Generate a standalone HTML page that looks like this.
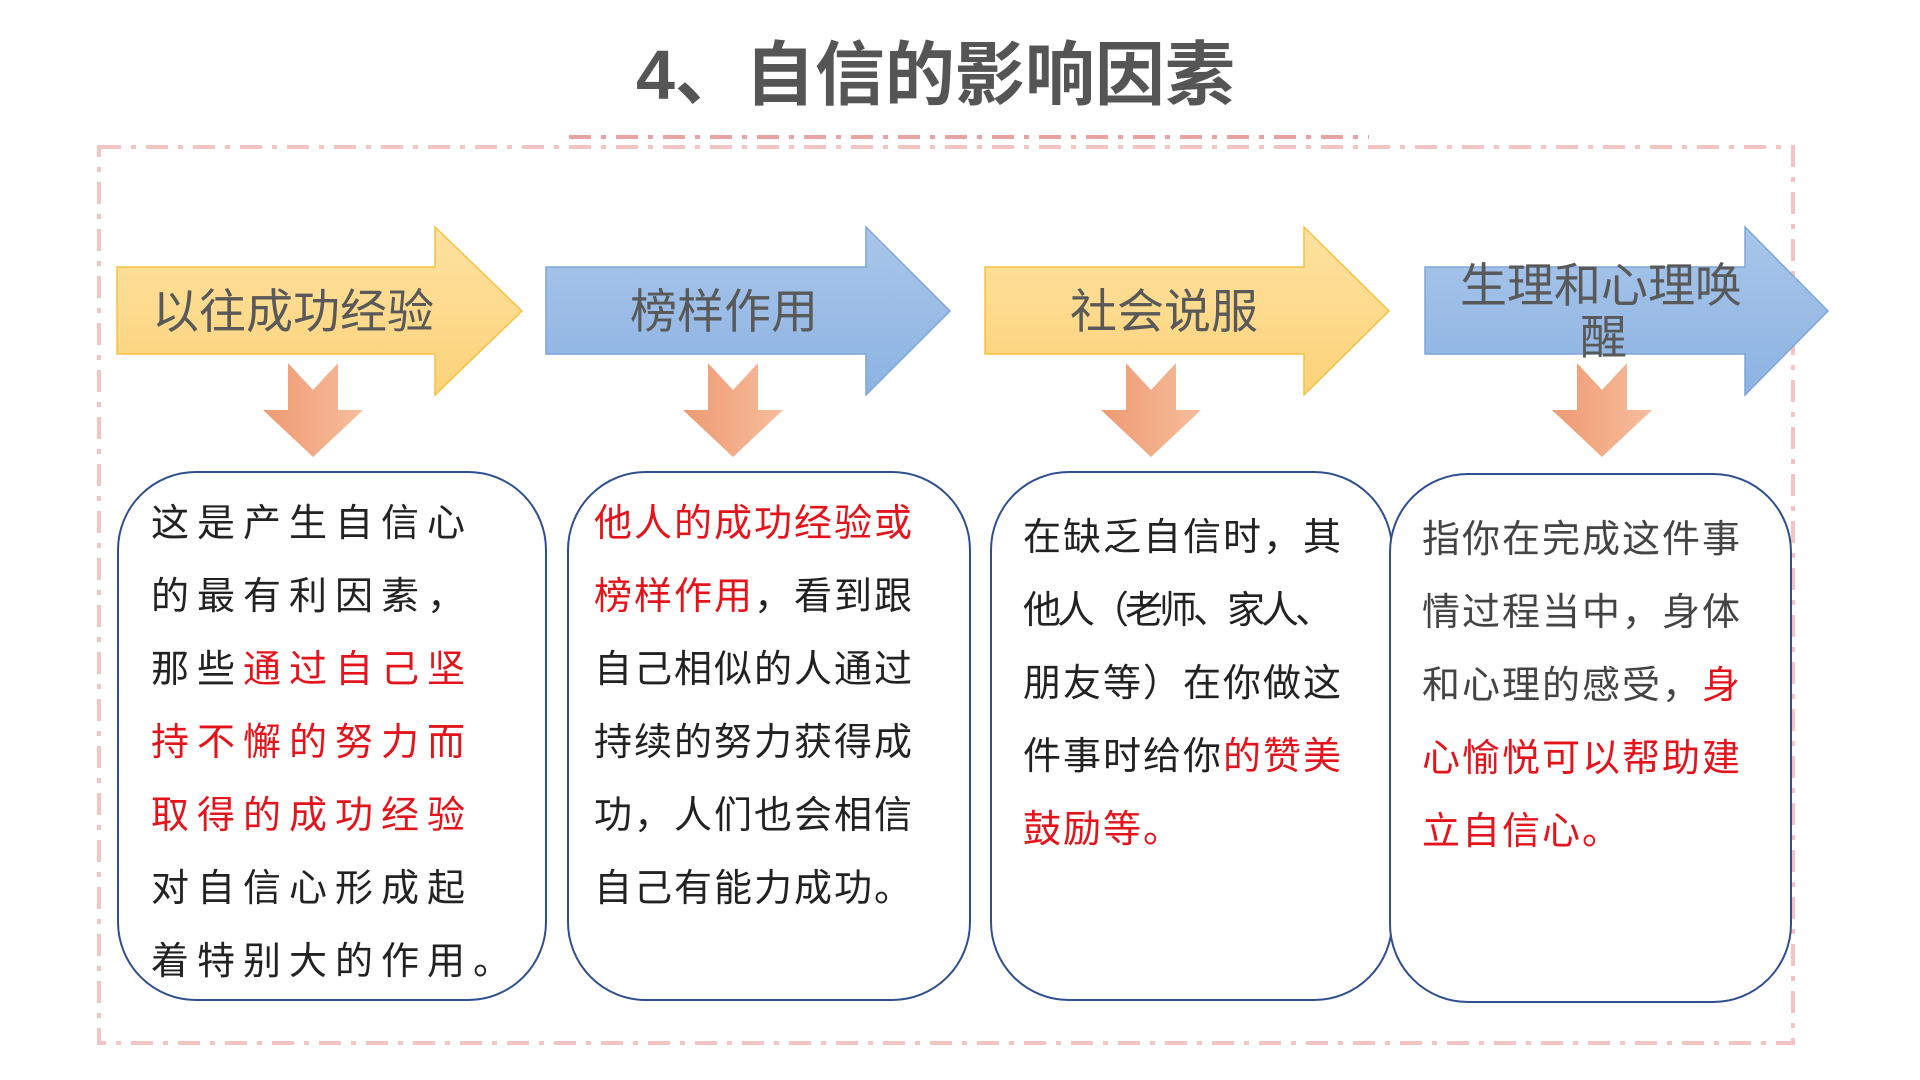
<!DOCTYPE html>
<html><head><meta charset="utf-8"><style>
html,body{margin:0;padding:0;background:#fff;}
#c{position:relative;width:1920px;height:1080px;overflow:hidden;font-family:"Liberation Sans","Noto Sans CJK SC",sans-serif;}
.t{position:absolute;white-space:nowrap;line-height:1;}
.lab{font-size:47px;color:#595959;}
.tx{font-size:38px;color:#222;letter-spacing:2px;}
.r{color:#e3141c;}
</style></head><body><div id="c">
<svg width="1920" height="1080" style="position:absolute;left:0;top:0">
<defs>
<linearGradient id="y" x1="0" y1="0" x2="0" y2="1"><stop offset="0" stop-color="#fde2a0"/><stop offset="1" stop-color="#fdd27a"/></linearGradient>
<linearGradient id="b" x1="0" y1="0" x2="0" y2="1"><stop offset="0" stop-color="#a9c6ea"/><stop offset="1" stop-color="#8cb3e2"/></linearGradient>
<linearGradient id="o" x1="0" y1="0" x2="1" y2="0"><stop offset="0" stop-color="#ee9a72"/><stop offset="1" stop-color="#f7bd9c"/></linearGradient>
</defs>
<line x1="569" y1="137" x2="1369" y2="137" stroke="#e8a3a3" stroke-width="4" stroke-dasharray="22,10,5,10"/>
<rect x="99" y="147" width="1694" height="896" fill="none" stroke="#f2c4c4" stroke-width="4" stroke-dasharray="22,10,5,10"/>
<polygon points="117,267 435,267 435,227 522,311 435,395 435,354 117,354" fill="url(#y)" stroke="#f5c242" stroke-width="1.5"/>
<polygon points="546,267 866,267 866,227 950,311 866,395 866,354 546,354" fill="url(#b)" stroke="#7fa6d8" stroke-width="1.5"/>
<polygon points="985,267 1304,267 1304,227 1389,311 1304,395 1304,354 985,354" fill="url(#y)" stroke="#f5c242" stroke-width="1.5"/>
<polygon points="1425,267 1745,267 1745,227 1828,311 1745,395 1745,354 1425,354" fill="url(#b)" stroke="#7fa6d8" stroke-width="1.5"/>
<g fill="url(#o)">
<polygon points="288,363 313,390 338,363 338,410 363,410 313,457 263,410 288,410"/>
<polygon points="708,363 733,390 758,363 758,410 783,410 733,457 683,410 708,410"/>
<polygon points="1126,363 1151,390 1176,363 1176,410 1201,410 1151,457 1101,410 1126,410"/>
<polygon points="1577,363 1602,390 1627,363 1627,410 1652,410 1602,457 1552,410 1577,410"/>
</g>
<g fill="#fff" stroke="#2f4f8f" stroke-width="2">
<rect x="118" y="472" width="428" height="528" rx="78"/>
<rect x="568" y="472" width="402" height="528" rx="78"/>
<rect x="991" y="472" width="401" height="528" rx="78"/>
<rect x="1390" y="474" width="401" height="528" rx="78"/>
</g>
</svg>
<div class="t" style="left:636px;top:40px;font-size:70px;color:#555;font-weight:bold;">4、自信的影响因素</div>
<div class="t lab" style="left:152px;top:288px;">以往成功经验</div>
<div class="t lab" style="left:630px;top:288px;">榜样作用</div>
<div class="t lab" style="left:1070px;top:288px;">社会说服</div>
<div class="t lab" style="left:1460px;top:262px;">生理和心理唤</div>
<div class="t lab" style="left:1580px;top:314px;">醒</div>

<div class="t tx" style="left:151px;top:505px;letter-spacing:8px;">这是产生自信心</div>
<div class="t tx" style="left:151px;top:578px;letter-spacing:8px;">的最有利因素，</div>
<div class="t tx" style="left:151px;top:651px;letter-spacing:8px;">那些<span class="r">通过自己坚</span></div>
<div class="t tx r" style="left:151px;top:724px;letter-spacing:8px;">持不懈的努力而</div>
<div class="t tx r" style="left:151px;top:797px;letter-spacing:8px;">取得的成功经验</div>
<div class="t tx" style="left:151px;top:870px;letter-spacing:8px;">对自信心形成起</div>
<div class="t tx" style="left:151px;top:943px;letter-spacing:8px;">着特别大的作用。</div>

<div class="t tx r" style="left:594px;top:505px;">他人的成功经验或</div>
<div class="t tx" style="left:594px;top:578px;"><span class="r">榜样作用</span>，看到跟</div>
<div class="t tx" style="left:594px;top:651px;">自己相似的人通过</div>
<div class="t tx" style="left:594px;top:724px;">持续的努力获得成</div>
<div class="t tx" style="left:594px;top:797px;">功，人们也会相信</div>
<div class="t tx" style="left:594px;top:870px;">自己有能力成功。</div>

<div class="t tx" style="left:1023px;top:519px;">在缺乏自信时，其</div>
<div class="t tx" style="left:1023px;top:592px;letter-spacing:-4px;">他人（老师、家人、</div>
<div class="t tx" style="left:1023px;top:665px;">朋友等）在你做这</div>
<div class="t tx" style="left:1023px;top:738px;">件事时给你<span class="r">的赞美</span></div>
<div class="t tx r" style="left:1023px;top:811px;">鼓励等。</div>

<div class="t tx" style="left:1422px;top:521px;color:#444;">指你在完成这件事</div>
<div class="t tx" style="left:1422px;top:594px;color:#444;">情过程当中，身体</div>
<div class="t tx" style="left:1422px;top:667px;color:#444;">和心理的感受，<span class="r">身</span></div>
<div class="t tx r" style="left:1422px;top:740px;">心愉悦可以帮助建</div>
<div class="t tx r" style="left:1422px;top:813px;">立自信心。</div>
</div></body></html>
